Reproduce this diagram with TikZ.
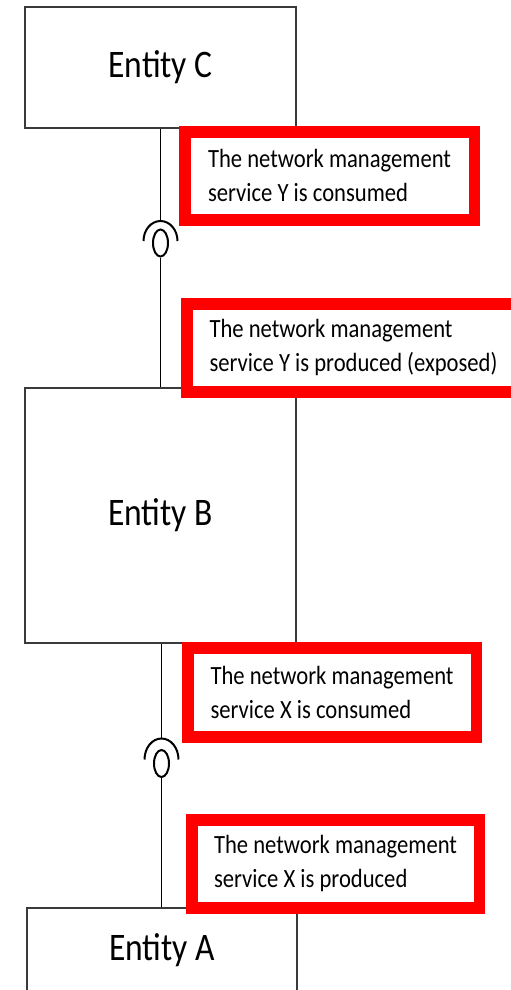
\documentclass[tikz,border=0pt]{standalone}
\usepackage{fontspec}
\setmainfont{Carlito}[FakeStretch=0.86]
\usepackage{tikz}
\usetikzlibrary{shapes.geometric}
\usepackage{xcolor}

\definecolor{edgegray}{HTML}{3A3A3A}

\tikzset{
  entity/.style={draw=edgegray, line width=1.6pt, minimum width=271pt,
    font=\fontsize{39}{44}\selectfont},
  infobox/.style={draw=red, line width=11.5pt, anchor=north west, align=left,
    inner xsep=0pt, font=\fontsize{26.3}{34}\selectfont},
  ball/.style={ellipse, draw, line width=2pt, inner sep=0pt,
    minimum width=15pt, minimum height=27pt},
  socket/.style={line width=2pt},
  wire/.style={line width=1.8pt}
}

\begin{document}
\begin{tikzpicture}[x=1pt, y=-1pt]
  \useasboundingbox (0,0) rectangle (511,990);

  % the three entities
  \node [entity, minimum height=121pt] (C) at (160.5,67.5) {Entity C};
  \node [entity, minimum height=255pt] (B) at (160.5,515.5) {Entity B};
  \node [entity, minimum width=270pt, minimum height=84pt] (A) at (162,950) {Entity A};

  % service Y between C and B
  \node [ball] (ballY) at (160.5,243) {};
  \draw [socket] ([xshift=17pt, yshift=2pt]ballY.center) coordinate (sockYr)
    arc [start angle=0, end angle=180, x radius=17pt, y radius=20pt] coordinate (sockYl);
  \coordinate (sockY) at ([yshift=22pt]ballY.center);
  \draw [wire] (C.south) -- (sockY);
  \draw [wire] (ballY.south) -- (B.north);

  % service X between B and A
  \node [ball] (ballX) at (161.5,763.5) {};
  \draw [socket] ([xshift=17pt, yshift=4pt]ballX.center) coordinate (sockXr)
    arc [start angle=0, end angle=180, x radius=17pt, y radius=21pt] coordinate (sockXl);
  \coordinate (sockX) at ([yshift=25pt]ballX.center);
  \draw [wire] (sockX) -- (sockX |- B.south);
  \draw [wire] (ballX.south) -- (ballX.south |- A.north);

  % notes
  \node [infobox, minimum width=289.5pt, minimum height=88pt] (noteYc) at (179,126)
    {The network management\\service Y is consumed};
  \node [infobox, minimum width=333.5pt, minimum height=88pt] (noteYp) at (181,298)
    {The network management\\service Y is produced (exposed)};
  \node [infobox, minimum width=288.5pt, minimum height=89pt] (noteXc) at (182,642)
    {The network management\\service X is consumed};
  \node [infobox, minimum width=287.5pt, minimum height=88pt] (noteXp) at (186,814)
    {The network management\\service X is produced};
\end{tikzpicture}
\end{document}
